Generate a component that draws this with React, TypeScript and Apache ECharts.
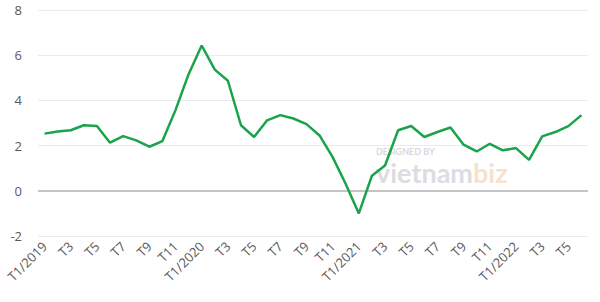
import React, { useEffect, useRef } from "react";
import * as echarts from "echarts";

const months: string[] = [
  "T1/2019", "T2", "T3", "T4", "T5", "T6", "T7", "T8", "T9", "T10", "T11", "T12",
  "T1/2020", "T2", "T3", "T4", "T5", "T6", "T7", "T8", "T9", "T10", "T11", "T12",
  "T1/2021", "T2", "T3", "T4", "T5", "T6", "T7", "T8", "T9", "T10", "T11", "T12",
  "T1/2022", "T2", "T3", "T4", "T5", "T6",
];

const values: number[] = [
  2.53, 2.62, 2.68, 2.9, 2.87, 2.13, 2.42, 2.23, 1.95, 2.2, 3.57, 5.16,
  6.43, 5.36, 4.87, 2.9, 2.38, 3.12, 3.35, 3.2, 2.95, 2.45, 1.49, 0.3,
  -1.0, 0.67, 1.12, 2.68, 2.87, 2.38, 2.6, 2.8, 2.04, 1.74, 2.08, 1.79,
  1.89, 1.37, 2.41, 2.6, 2.86, 3.35,
];

const yMin = -2;
const yMax = 8;
const yStep = 2;

export default function App() {
  const ref = useRef<HTMLDivElement>(null);

  useEffect(() => {
    document.body.style.margin = "0";
    if (!ref.current) return;
    const chart = echarts.init(ref.current, null, { renderer: "svg" });
    chart.setOption({
      animation: false,
      backgroundColor: "#ffffff",
      grid: { left: 38, right: 12, top: 10, bottom: 66 },
      xAxis: {
        type: "category",
        data: months,
        boundaryGap: true,
        axisLine: { show: false },
        axisTick: { show: false },
        splitLine: { show: false },
        axisLabel: {
          interval: 1,
          rotate: 45,
          margin: 8,
          color: "#595959",
          fontSize: 13,
          fontFamily: "Open Sans",
        },
      },
      yAxis: {
        type: "value",
        min: yMin,
        max: yMax,
        interval: yStep,
        axisLine: { show: false },
        axisTick: { show: false },
        axisLabel: {
          color: "#595959",
          fontSize: 13,
          fontFamily: "Open Sans",
          margin: 16,
        },
        splitLine: { lineStyle: { color: "#ebebeb", width: 1 } },
      },
      graphic: [
        {
          type: "text",
          left: 376,
          top: 147,
          silent: true,
          z: 0,
          style: {
            text: "{d|DESIGNED BY}\n{a|vietnam}{b|biz}",
            rich: {
              d: { fill: "#d9d9de", font: "bold 9px Lato", lineHeight: 12 },
              a: { fill: "#dcdce2", font: "bold 27px Lato", lineHeight: 30 },
              b: { fill: "#f6e2cc", font: "bold 27px Lato", lineHeight: 30 },
            },
          },
        },
      ],
      series: [
        {
          type: "line",
          data: values,
          symbol: "none",
          z: 5,
          lineStyle: { color: "#1aa34a", width: 2.5 },
          markLine: {
            silent: true,
            symbol: "none",
            label: { show: false },
            lineStyle: { color: "#c4c4c4", width: 2, type: "solid" },
            data: [{ yAxis: 0 }],
            z: 1,
          },
        },
      ],
    });
    return () => chart.dispose();
  }, []);

  return <div ref={ref} style={{ width: 600, height: 302 }} />;
}
